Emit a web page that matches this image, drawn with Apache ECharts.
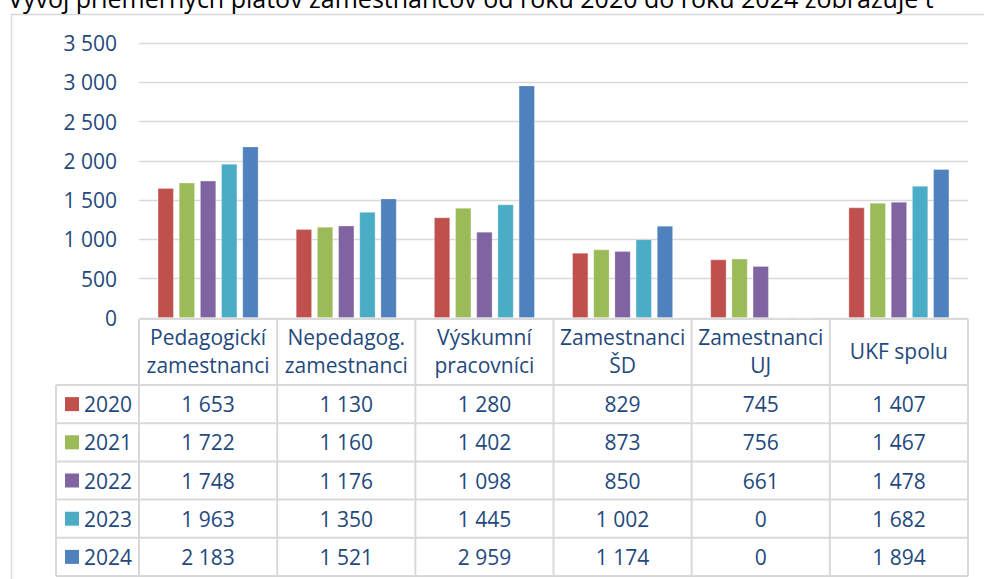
<!DOCTYPE html>
<html>
<head>
<meta charset="utf-8">
<script src="https://cdn.jsdelivr.net/npm/echarts@6/dist/echarts.min.js"></script>
<style>
  html, body { margin: 0; padding: 0; background: #fff; }
  #chart { width: 984px; height: 579px; }
</style>
</head>
<body>
<div id="chart"></div>
<script>
// data
var categories = ['Pedagogickí\nzamestnanci', 'Nepedagog.\nzamestnanci', 'Výskumní\npracovníci', 'Zamestnanci\nŠD', 'Zamestnanci\nUJ', 'UKF spolu'];
var years = ['2020', '2021', '2022', '2023', '2024'];
var v2020 = [1653, 1130, 1280, 829, 745, 1407];
var v2021 = [1722, 1160, 1402, 873, 756, 1467];
var v2022 = [1748, 1176, 1098, 850, 661, 1478];
var v2023 = [1963, 1350, 1445, 1002, 0, 1682];
var v2024 = [2183, 1521, 2959, 1174, 0, 1894];
var yTicks = [0, 500, 1000, 1500, 2000, 2500, 3000, 3500];
var titleText = 'Vývoj priemerných platov zamestnancov od roku 2020 do roku 2024 zobrazuje t';

var seriesValues = [v2020, v2021, v2022, v2023, v2024];
var colors = ['#C0504D', '#9BBB59', '#8064A2', '#4BACC6', '#4F81BD'];
var textColor = '#1F497D';
var lineColor = '#D9D9D9';
var font = '"Open Sans", sans-serif';

function fmt(n) {
  return String(n).replace(/\B(?=(\d{3})+(?!\d))/g, ' ');
}

var gridLeft = 139, gridRight = 16, gridTop = 43, gridBottom = 261;

var myChart = echarts.init(document.getElementById('chart'), null, {renderer: 'svg'});
myChart.setOption({
  animation: false,
  color: colors,
  grid: {left: gridLeft, right: gridRight, top: gridTop, bottom: gridBottom},
  xAxis: {
    type: 'category',
    data: categories,
    axisLine: {show: false},
    axisTick: {show: false},
    axisLabel: {
      interval: 0,
      margin: 33,
      verticalAlign: 'middle',
      lineHeight: 28,
      color: textColor,
      fontFamily: font,
      fontSize: 21
    }
  },
  yAxis: {
    type: 'value',
    min: yTicks[0],
    max: yTicks[yTicks.length - 1],
    interval: 500,
    axisLine: {show: false},
    axisTick: {show: false},
    axisLabel: {
      margin: 22,
      color: textColor,
      fontFamily: font,
      fontSize: 21,
      formatter: function (v) { return fmt(v); }
    },
    splitLine: {lineStyle: {color: lineColor, width: 1.3}}
  },
  series: years.map(function (y, i) {
    return {
      name: y,
      type: 'bar',
      data: seriesValues[i],
      barGap: '31%',
      barCategoryGap: '27%',
      itemStyle: {color: colors[i], borderColor: 'rgba(255,255,255,0.35)', borderWidth: 0.8}
    };
  })
});

// data table under the plot
var plotRight = 984 - gridRight;
var colW = (plotRight - gridLeft) / categories.length;
var headTop = 319, rowTop = 385, rowH = 38.2, legendLeft = 56;
var g = [];

function line(x1, y1, x2, y2, w, c) {
  g.push({type: 'line', silent: true, shape: {x1: x1, y1: y1, x2: x2, y2: y2},
    style: {stroke: c || lineColor, lineWidth: w || 2}});
}

// outer frame (left and top only visible)
line(11.5, 14, 11.5, 579, 1.5);
line(11, 14.5, 984, 14.5, 1.5);

// table lines
line(gridLeft, headTop, plotRight, headTop);
for (var r = 0; r <= years.length; r++) {
  line(legendLeft, rowTop + r * rowH, plotRight, rowTop + r * rowH);
}
line(legendLeft, rowTop, legendLeft, rowTop + years.length * rowH);
for (var c = 0; c <= categories.length; c++) {
  line(gridLeft + c * colW, headTop, gridLeft + c * colW, rowTop + years.length * rowH);
}

// legend keys and values
years.forEach(function (y, i) {
  var cy = rowTop + i * rowH + rowH / 2;
  g.push({type: 'rect', silent: true, shape: {x: 65, y: cy - 7, width: 14, height: 14},
    style: {fill: colors[i]}});
  g.push({type: 'text', silent: true, style: {x: 84, y: cy, text: y, fill: textColor,
    font: '21px ' + font, verticalAlign: 'middle', align: 'left'}});
  seriesValues[i].forEach(function (v, j) {
    var cx = myChart.convertToPixel({xAxisIndex: 0}, j);
    g.push({type: 'text', silent: true, style: {x: cx, y: cy, text: fmt(v), fill: textColor,
      font: '21px ' + font, verticalAlign: 'middle', align: 'center'}});
  });
});

// title (cut off at the top and right in the source picture)
g.push({type: 'text', silent: true, style: {x: 8, y: -2, text: titleText, fill: '#000',
  font: '25px ' + font, verticalAlign: 'middle', align: 'left'}});

myChart.setOption({graphic: g});
</script>
</body>
</html>
